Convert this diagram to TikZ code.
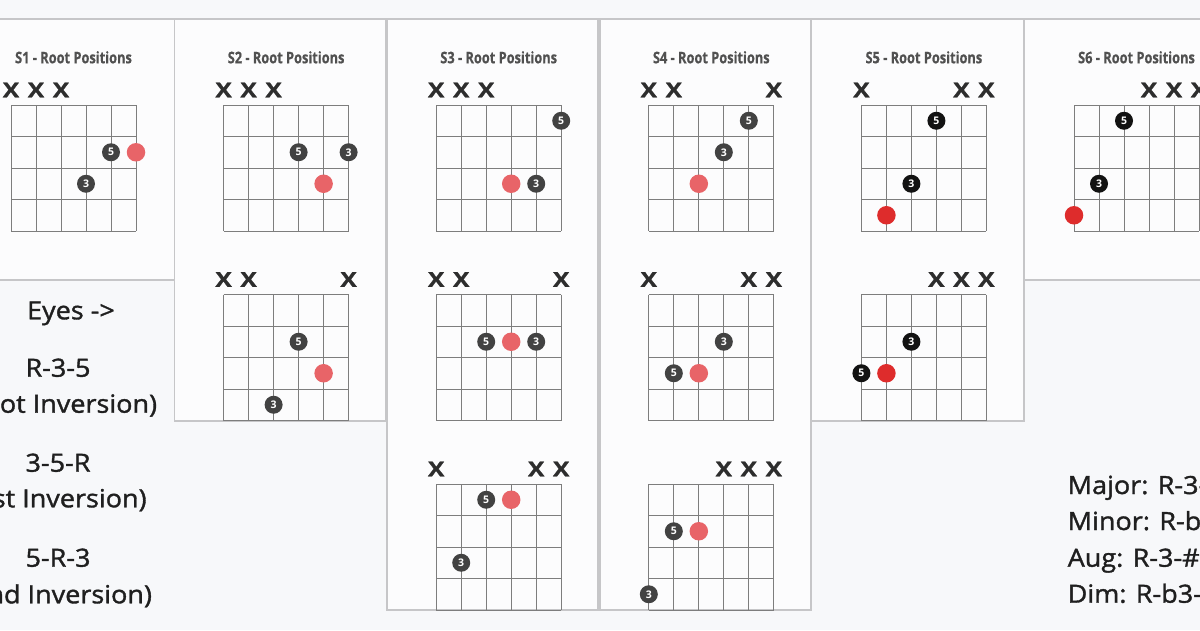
\documentclass[tikz,border=0pt]{standalone}
\usepackage{fontspec}
\setmainfont{Open Sans}
\newfontfamily\titlefont[FakeStretch=0.8, FakeBold=0.6]{Open Sans}
\newfontfamily\notefont[FakeStretch=1.08, FakeBold=1.4]{Open Sans}
\newfontfamily\mutefont[FakeStretch=1.2, FakeBold=1]{Open Sans}
\usetikzlibrary{calc}

\definecolor{pagebg}{RGB}{247,248,250}
\definecolor{panelbg}{RGB}{252,252,253}
\definecolor{panelline}{RGB}{198,198,200}
\definecolor{gridline}{RGB}{125,125,125}
\definecolor{rootred}{RGB}{232,100,104}
\definecolor{rootdark}{RGB}{222,44,44}
\definecolor{tonegray}{RGB}{66,66,66}
\definecolor{toneblack}{RGB}{18,18,18}
\definecolor{titlegray}{RGB}{80,80,80}
\definecolor{mutegray}{RGB}{45,45,45}

\tikzset{
  panel/.style={draw=panelline, line width=1.5pt, fill=panelbg},
  fretline/.style={draw=gridline, line width=0.9pt},
  root/.style={circle, fill=rootred, minimum size=18.5pt, inner sep=0pt},
  rootdk/.style={root, fill=rootdark},
  tone/.style={circle, fill=tonegray, minimum size=18pt, inner sep=0pt,
    text=white, font=\bfseries\fontsize{10.5}{10.5}\selectfont},
  tonedk/.style={tone, fill=toneblack},
  mute/.style={text=mutegray, anchor=base, inner sep=0pt,
    font=\mutefont\bfseries\fontsize{20.5}{20.5}\selectfont},
  paneltitle/.style={text=titlegray, anchor=base, inner sep=0pt,
    font=\titlefont\bfseries\fontsize{16}{16}\selectfont},
  sidetext/.style={text=black!88, anchor=base, inner sep=0pt,
    font=\notefont\fontsize{25}{25}\selectfont}
}

% one chord box: 6 strings, 4 frets
\newcommand{\chordbox}[3]{%
  \coordinate (#1) at (#2,#3);
  \foreach \s in {0,...,5} \draw[fretline] ($(#1)+(25*\s,0)$) -- ++(0,126);
  \foreach \f in {0,...,4} \draw[fretline] ($(#1)+(0,31.5*\f)$) -- ++(125,0);
}
\newcommand{\chordmute}[2]{%
  \foreach \s in {#2} \node[mute] (#1-x\s) at ($(#1)+(25*\s,-7.7)$) {X};
}
\newcommand{\chordtone}[5]{%
  \node[#1] (#2-#5) at ($(#2)+(25*#3,31.5*#4-15.75)$) {#5};
}
\newcommand{\chordroot}[4]{%
  \node[#1] (#2-r) at ($(#2)+(25*#3,31.5*#4-15.75)$) {};
}

\begin{document}
\begin{tikzpicture}[x=1pt, y=-1pt]
  \useasboundingbox (0,0) rectangle (1200,630);
  \clip (0,0) rectangle (1200,630);
  \fill[pagebg] (0,0) rectangle (1200,630);

  % panels
  \draw[panel] (-38,19) rectangle (174.5,280);
  \draw[panel] (174.5,19) rectangle (386,421);
  \draw[panel] (387,19) rectangle (598,610);
  \draw[panel] (600,19) rectangle (811,610);
  \draw[panel] (811.5,19) rectangle (1024,421);
  \draw[panel] (1024.5,19) rectangle (1240,280);

  % titles
  \node[paneltitle] (t1) at (73.5,63.3) {S1 - Root Positions};
  \node[paneltitle] (t2) at (286.1,63.3) {S2 - Root Positions};
  \node[paneltitle] (t3) at (498.7,63.3) {S3 - Root Positions};
  \node[paneltitle] (t4) at (711.3,63.3) {S4 - Root Positions};
  \node[paneltitle] (t5) at (923.9,63.3) {S5 - Root Positions};
  \node[paneltitle] (t6) at (1136.5,63.3) {S6 - Root Positions};

  % S1
  \chordbox{s1a}{11}{105}
  \chordmute{s1a}{0,1,2}
  \chordtone{tone}{s1a}{4}{2}{5}
  \chordroot{root}{s1a}{5}{2}
  \chordtone{tone}{s1a}{3}{3}{3}

  % S2
  \chordbox{s2a}{223.6}{105}
  \chordmute{s2a}{0,1,2}
  \chordtone{tone}{s2a}{3}{2}{5}
  \chordtone{tone}{s2a}{5}{2}{3}
  \chordroot{root}{s2a}{4}{3}
  \chordbox{s2b}{223.6}{294.5}
  \chordmute{s2b}{0,1,5}
  \chordtone{tone}{s2b}{3}{2}{5}
  \chordroot{root}{s2b}{4}{3}
  \chordtone{tone}{s2b}{2}{4}{3}

  % S3
  \chordbox{s3a}{436.2}{105}
  \chordmute{s3a}{0,1,2}
  \chordtone{tone}{s3a}{5}{1}{5}
  \chordroot{root}{s3a}{3}{3}
  \chordtone{tone}{s3a}{4}{3}{3}
  \chordbox{s3b}{436.2}{294.5}
  \chordmute{s3b}{0,1,5}
  \chordtone{tone}{s3b}{2}{2}{5}
  \chordroot{root}{s3b}{3}{2}
  \chordtone{tone}{s3b}{4}{2}{3}
  \chordbox{s3c}{436.2}{484}
  \chordmute{s3c}{0,4,5}
  \chordtone{tone}{s3c}{2}{1}{5}
  \chordroot{root}{s3c}{3}{1}
  \chordtone{tone}{s3c}{1}{3}{3}

  % S4
  \chordbox{s4a}{648.8}{105}
  \chordmute{s4a}{0,1,5}
  \chordtone{tone}{s4a}{4}{1}{5}
  \chordtone{tone}{s4a}{3}{2}{3}
  \chordroot{root}{s4a}{2}{3}
  \chordbox{s4b}{648.8}{294.5}
  \chordmute{s4b}{0,4,5}
  \chordtone{tone}{s4b}{3}{2}{3}
  \chordtone{tone}{s4b}{1}{3}{5}
  \chordroot{root}{s4b}{2}{3}
  \chordbox{s4c}{648.8}{484}
  \chordmute{s4c}{3,4,5}
  \chordtone{tone}{s4c}{1}{2}{5}
  \chordroot{root}{s4c}{2}{2}
  \chordtone{tone}{s4c}{0}{4}{3}

  % S5
  \chordbox{s5a}{861.4}{105}
  \chordmute{s5a}{0,4,5}
  \chordtone{tonedk}{s5a}{3}{1}{5}
  \chordtone{tonedk}{s5a}{2}{3}{3}
  \chordroot{rootdk}{s5a}{1}{4}
  \chordbox{s5b}{861.4}{294.5}
  \chordmute{s5b}{3,4,5}
  \chordtone{tonedk}{s5b}{2}{2}{3}
  \chordtone{tonedk}{s5b}{0}{3}{5}
  \chordroot{rootdk}{s5b}{1}{3}

  % S6
  \chordbox{s6a}{1074}{105}
  \chordmute{s6a}{3,4,5}
  \chordtone{tonedk}{s6a}{2}{1}{5}
  \chordtone{tonedk}{s6a}{1}{3}{3}
  \chordroot{rootdk}{s6a}{0}{4}

  % left notes
  \node[sidetext] (eyes) at (71,319.3) {Eyes ->};
  \node[sidetext] (rootpos) at (58,376.7) {R-3-5};
  \node[sidetext] (rootinv) at (58,412.7) {(Root Inversion)};
  \node[sidetext] (firstpos) at (58,471.7) {3-5-R};
  \node[sidetext] (firstinv) at (58,507.3) {(1st Inversion)};
  \node[sidetext] (secondpos) at (58,566.7) {5-R-3};
  \node[sidetext] (secondinv) at (58,603.3) {(2nd Inversion)};

  % right notes
  \node[sidetext, anchor=base west] (major) at (1067.5,494) {Major: R-3-5};
  \node[sidetext, anchor=base west] (minor) at (1067.5,530) {Minor: R-b3-5};
  \node[sidetext, anchor=base west] (aug) at (1067.5,566.7) {Aug: R-3-\#5};
  \node[sidetext, anchor=base west] (dim) at (1067.5,602.7) {Dim: R-b3-b5};
\end{tikzpicture}
\end{document}
